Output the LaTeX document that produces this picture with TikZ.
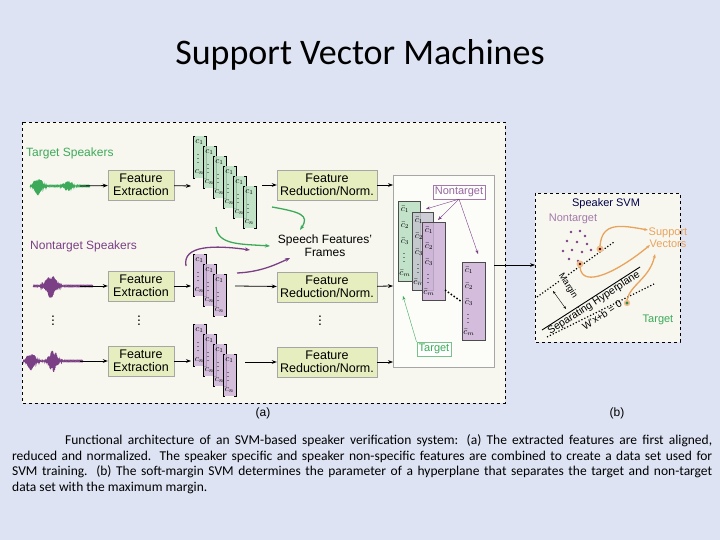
\documentclass[tikz,border=0pt]{standalone}
\usepackage{fontspec}
\setmainfont{Liberation Sans}
\newfontfamily\carfont{Carlito}
\usetikzlibrary{arrows.meta}
\definecolor{bg}{HTML}{DDE3F3}
\definecolor{panel}{HTML}{F7F7EF}
\definecolor{gr}{HTML}{3DAA5A}
\definecolor{pu}{HTML}{7B3F86}
\definecolor{grf}{HTML}{B9DFC2}
\definecolor{puf}{HTML}{CDB3D8}
\definecolor{boxf}{HTML}{E6EDBE}
\definecolor{orng}{HTML}{E9A35C}
\tikzset{
 fbox/.style={draw=gray!70,fill=boxf,minimum width=66pt,minimum height=30pt,align=center,font=\fontsize{12.5}{13}\selectfont,inner sep=1pt},
 arr/.style={-{Stealth[length=5pt]},line width=0.8pt},
 mlab/.style={font=\fontsize{9}{9}\selectfont,inner sep=0pt},
 lbl/.style={font=\fontsize{12}{13}\selectfont,inner sep=1pt},
 capt/.style={font=\carfont\fontsize{13.5}{14}\selectfont,anchor=west,inner sep=0pt},
}
\newcommand\mymat[3]{% x y color
 \fill[#3,opacity=0.85] (#1,#2) rectangle ++(13,42);
 \draw[line width=0.5pt] (#1+2,#2) -- (#1,#2) -- (#1,#2+42) -- (#1+2,#2+42);
 \draw[line width=0.5pt] (#1+11,#2) -- (#1+13,#2) -- (#1+13,#2+42) -- (#1+11,#2+42);
 \node[mlab] at (#1+6.5,#2+6) {$c_1$};
 \node[mlab] at (#1+5,#2+20) {$\vdots$};
 \node[mlab] at (#1+6.5,#2+36) {$c_n$};
}
\newcommand\barcol[5]{% x y w h color
 \fill[#5,opacity=0.85] (#1,#2) rectangle ++(#3,#4);
 \draw[gray!60!black,line width=0.4pt] (#1,#2) rectangle ++(#3,#4);
 \node[mlab] at (#1+7,#2+8) {$\bar c_1$};
 \node[mlab] at (#1+7,#2+24) {$\bar c_2$};
 \node[mlab] at (#1+7,#2+40) {$\bar c_3$};
 \node[mlab] at (#1+6,#2+54) {$\vdots$};
 \node[mlab] at (#1+7,#2+#4-8) {$\bar c_m$};
}
\begin{document}
\begin{tikzpicture}[x=1pt,y=-1pt]
\fill[bg] (0,0) rectangle (720,540);
\useasboundingbox (0,0) rectangle (720,540);
\node[font=\carfont\fontsize{36}{40}\selectfont] (title) at (360,55) {Support Vector Machines};
% panel a
\draw[dashed,fill=panel] (22,122) rectangle (505,403);
\node[lbl,text=gr,anchor=west] (ts) at (25,153) {Target Speakers};
\node[lbl,text=pu,anchor=west] (ns) at (29,246) {Nontarget Speakers};
% waveforms
\draw[gr,line width=0.6pt] plot[domain=0:60,samples=300] ({30+\x},{186+9*exp(-min(((\x-8)/5)^2,20))*sin(mod(\x*61,36)*10)+5*exp(-min(((\x-38)/5)^2,20))*sin(mod(\x*57,36)*10)+0.5*sin(mod(\x*70,36)*10)});
\draw[pu,line width=0.6pt] plot[domain=0:60,samples=300] ({33+\x},{286+12*exp(-min(((\x-18)/6)^2,20))*sin(mod(\x*61,36)*10)+0.5*sin(mod(\x*70,36)*10)});
\draw[pu,line width=0.6pt] plot[domain=0:60,samples=300] ({23+\x},{361+9*exp(-min(((\x-8)/5)^2,20))*sin(mod(\x*61,36)*10)+11*exp(-min(((\x-30)/5)^2,20))*sin(mod(\x*57,36)*10)+0.5*sin(mod(\x*70,36)*10)});
\coordinate (w1) at (80,186); \coordinate (w2) at (80,286); \coordinate (w3) at (80,361);
% boxes
\node[fbox] (fe1) at (141,185) {Feature\\Extraction};
\node[fbox] (fe2) at (141,286) {Feature\\Extraction};
\node[fbox] (fe3) at (141,361) {Feature\\Extraction};
\node[fbox,minimum width=100pt] (fr1) at (327,185) {Feature\\Reduction/Norm.};
\node[fbox,minimum width=100pt] (fr2) at (327,287) {Feature\\Reduction/Norm.};
\node[fbox,minimum width=100pt] (fr3) at (327,362) {Feature\\Reduction/Norm.};
\draw[arr] (w1) -- (fe1); \draw[arr] (w2) -- (fe2); \draw[arr] (w3) -- (fe3);
\coordinate (m1) at (191,186); \coordinate (m2) at (191,286); \coordinate (m3) at (191,361);
\draw[arr] (fe1) -- (m1); \draw[arr] (fe2) -- (m2); \draw[arr] (fe3) -- (m3);
% matrices
\foreach \i in {0,...,5} {\mymat{193+10*\i}{136+10*\i}{grf}}
\foreach \i in {0,...,2} {\mymat{193+10*\i}{254+10*\i}{puf}}
\foreach \i in {0,...,3} {\mymat{193+10*\i}{324+10*\i}{puf}}
\coordinate (o1) at (262,185); \coordinate (o2) at (235,286); \coordinate (o3) at (245,362);
\draw[arr] (o1) -- (fr1); \draw[arr] (o2) -- (fr2); \draw[arr] (o3) -- (fr3);
% dots
\foreach \x in {53,139,320} {\node[font=\fontsize{14}{14}\selectfont] at (\x,318) {$\vdots$};}
% speech features label
\node[lbl,align=center] (sf) at (325,246) {Speech Features'\\Frames};
\draw[gr,line width=1.3pt,-{Stealth[length=5pt]}] (272,207) .. controls (300,212) and (310,215) .. (300,230);
\draw[gr,line width=1.3pt,-{Stealth[length=5pt]}] (216,227) .. controls (218,245) and (240,244) .. (270,246);
\draw[pu,line width=1.3pt,-{Stealth[length=5pt]}] (186,266) .. controls (182,245) and (215,245) .. (250,250);
\draw[pu,line width=1.3pt,-{Stealth[length=5pt]}] (237,273) .. controls (260,272) and (275,265) .. (290,258);
% big box
\draw[gray!70,fill=white!60!panel,line width=0.8pt] (393,175) rectangle (494,367);
\coordinate (bb1) at (393,185); \coordinate (bb2) at (393,286); \coordinate (bb3) at (393,362);
\draw[arr] (fr1) -- (bb1); \draw[arr] (fr2) -- (bb2); \draw[arr] (fr3) -- (bb3);
\barcol{398}{201}{22}{80}{grf}
\barcol{412}{212}{21}{78}{puf!60!grf}
\barcol{422}{222}{23}{78}{puf}
\barcol{462}{262}{23}{78}{puf}
\draw[dotted,line width=1.5pt] (445,290) -- (462,302);
\node[lbl,draw=pu!70,text=pu!80,fill=white,font=\fontsize{11}{11}\selectfont,inner sep=2pt] (nt) at (459,192) {Nontarget};
\node[lbl,draw=gr!70,text=gr,fill=white,font=\fontsize{11}{11}\selectfont,inner sep=2pt] (tg) at (434,349) {Target};
\draw[pu,-{Stealth[length=4pt]}] (nt.south) -- (426,209);
\draw[pu,-{Stealth[length=4pt]}] (nt.south) -- (438,220);
\draw[pu,-{Stealth[length=4pt]}] (nt.south) -- (478,254);
\draw[gr,-{Stealth[length=4pt]}] (tg.north west) -- (403,296);
% link to panel b
\coordinate (pb) at (535,265);
\draw[arr] (494,265) -- (pb);
\node[font=\fontsize{12}{12}\selectfont] (la) at (263,413) {(a)};
\node[font=\fontsize{12}{12}\selectfont] (lb) at (617,413) {(b)};
% panel b
\draw[dashed,fill=panel] (535,193) rectangle (680,342);
\node[lbl,text=blue!30!black,font=\fontsize{11}{11}\selectfont] (ssvm) at (606,204) {Speaker SVM};
\node[lbl,text=pu!70,font=\fontsize{11}{11}\selectfont] (ntb) at (573,219) {Nontarget};
\foreach \p in {(571,232),(580,231),(585,236),(567,241),(577,242),(587,244),(563,251),(572,250),(582,252),(591,250),(569,259),(578,261)} {\fill[pu] \p circle (1.4);}
\draw[dotted,line width=1.2pt] (537,297) -- (614,242);
\draw[line width=0.9pt] (542,330) -- (640,267);
\draw[dotted,line width=1.2pt] (547,337) -- (654,284);
\draw[{Stealth[length=3pt]}-{Stealth[length=3pt]}] (553,291) -- (566,309);
\node[font=\fontsize{9}{9}\selectfont,rotate=-58,fill=panel,inner sep=0.5pt] (mg) at (568,286) {Margin};
\node[font=\fontsize{10.5}{10}\selectfont,rotate=33] (sh) at (594,303) {Separating Hyperplane};
\node[font=\fontsize{10}{10}\selectfont,rotate=33] (eq) at (602,315) {W'x+b = 0};
\node[lbl,text=orng,align=center,font=\fontsize{11}{12}\selectfont] (sv) at (668,238) {Support\\Vectors};
\node[lbl,text=gr,font=\fontsize{11}{11}\selectfont] (tgb) at (658,320) {Target};
\fill[orng!70] (600,249) circle (3.5); \fill[black!70!red] (600,249) circle (1.3);
\fill[orng!70] (580,264) circle (3.5); \fill[black!70!red] (580,264) circle (1.3);
\fill[orng!70] (627,303) circle (3.2); \fill[gr!80!black] (627,303) circle (1.6);
\draw[orng,line width=1.3pt,-{Stealth[length=4pt]}] (600,246) .. controls (602,222) and (620,225) .. (648,230);
\draw[orng,line width=1.3pt,-{Stealth[length=4pt]}] (580,267) .. controls (582,290) and (620,270) .. (650,245);
\draw[orng,line width=1.3pt,-{Stealth[length=4pt]}] (627,300) .. controls (630,285) and (650,278) .. (655,254);
% caption
\node[capt] (c1) at (65,441) {\makebox[647pt][s]{Functional architecture of an SVM-based speaker verification system: (a) The extracted features are first aligned,}};
\node[capt] (c2) at (12,457) {\makebox[700pt][s]{reduced and normalized. The speaker specific and speaker non-specific features are combined to create a data set used for}};
\node[capt] (c3) at (12,472) {\makebox[700pt][s]{SVM training. (b) The soft-margin SVM determines the parameter of a hyperplane that separates the target and non-target}};
\node[capt] (c4) at (12,488) {data set with the maximum margin.};
\end{tikzpicture}
\end{document}
